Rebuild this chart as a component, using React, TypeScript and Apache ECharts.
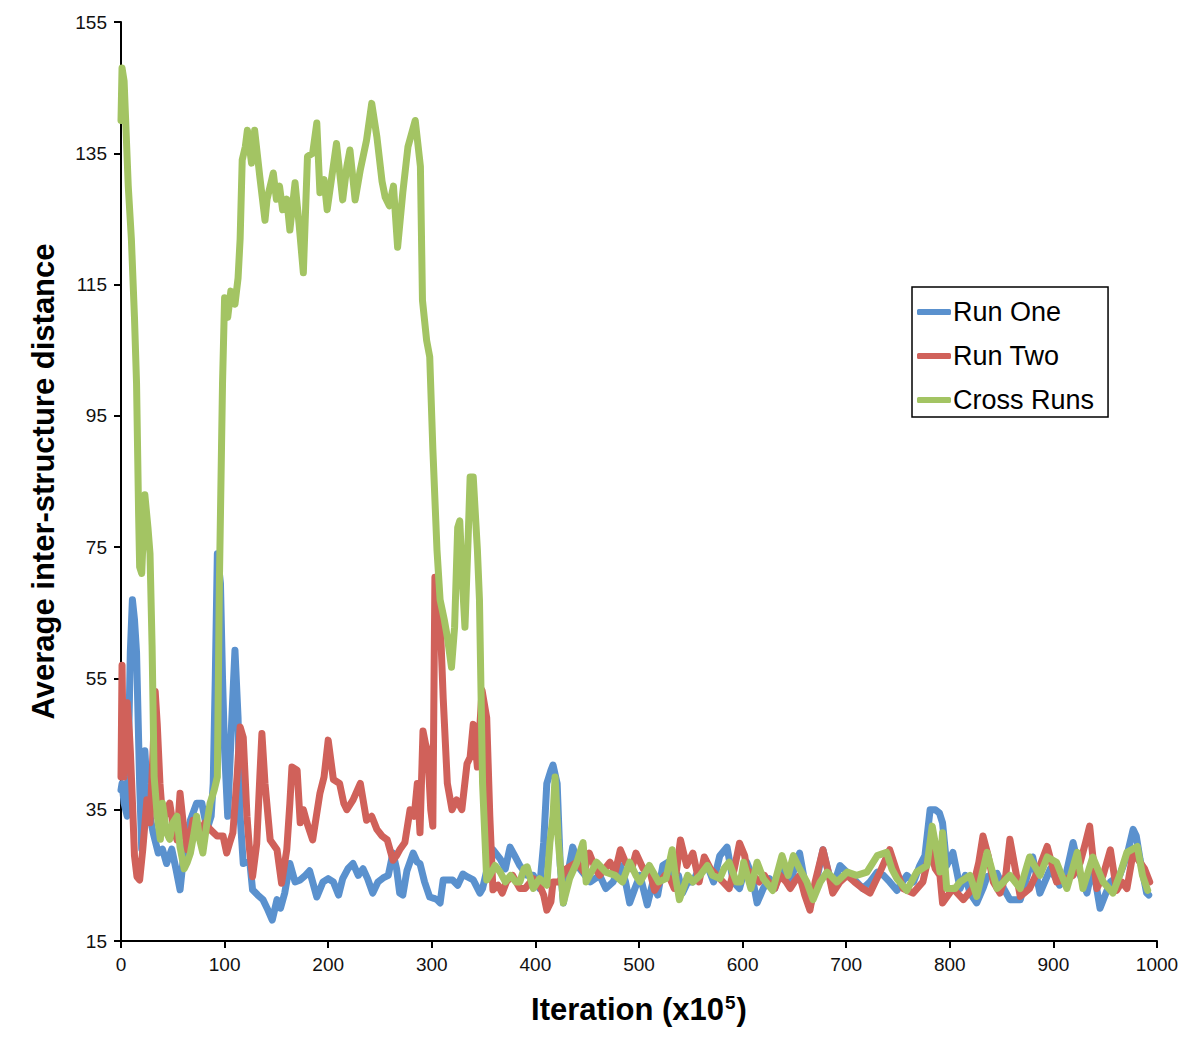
import React, { useEffect, useRef } from "react";
import * as echarts from "echarts";

const seriesNames = ["Run One", "Run Two", "Cross Runs"];
const seriesColors = ["#5A91CE", "#D0615A", "#A3C463"];

const xTicks = { min: 0, max: 1000, step: 100 };
const yTicks = { min: 15, max: 155, step: 20 };

const runOne: number[][] = [
  [0, 38], [1, 39], [3, 36], [6, 34], [9, 59], [11, 67], [13, 64], [15, 59], [18, 39], [20, 29], [23, 44], [25, 39], [28, 34], [31, 31.5], [36, 28.4], [40, 29], [44, 26.8], [49, 29], [53, 26], [57, 22.8], [60, 27.3], [63, 30], [67, 33.4], [73, 36], [78, 36], [83, 32], [87, 34], [89, 39], [91, 55], [93, 74], [96, 69.5], [98, 55], [100, 44], [103, 34], [107, 49], [110, 59.3], [113, 49], [115, 34], [118, 26.8], [121, 27], [124.5, 26.8], [127, 22.8], [132, 22], [137, 21.3], [141, 20], [146, 18.2], [150.6, 21.3], [154, 20], [158, 22.3], [163, 26.8], [168, 24], [173, 24.3], [178, 25], [182, 25.7], [189, 21.7], [195, 24], [200, 24.5], [205, 24], [210, 22], [214, 24.5], [219, 26], [224, 26.8], [229, 25], [233.6, 26], [238, 24.5], [243, 22.3], [248, 24], [253, 24.6], [258, 25], [262.5, 28.4], [266, 26], [269, 22.3], [272, 22], [276, 25.7], [282, 28.4], [286, 27], [288.6, 26.8], [293, 24], [298, 21.7], [302, 21.5], [305, 21.3], [308, 20.8], [311, 24.3], [317.6, 24.3], [320, 24.3], [325, 23.5], [330, 25.2], [334, 24.8], [340, 24.3], [346.5, 22.3], [349, 23], [353, 25.7], [356, 28.9], [359, 28.9], [366, 27.5], [371, 26], [375.5, 29.3], [380, 28], [385, 26.5], [392, 25], [398, 25], [404, 23], [408, 30], [411, 39], [415, 41], [417, 41.8], [421, 39], [424, 26.5], [427, 20.8], [431, 25], [436, 29.3], [443, 26], [448, 25], [453, 24], [462, 25], [468, 23], [475, 24], [482, 26.5], [487, 24], [491, 20.8], [496, 23], [501, 25], [508, 20.5], [513.5, 24], [518, 22], [523, 26.5], [528, 27], [533, 24.5], [538, 25], [542, 22.3], [547, 24], [552, 24], [558, 26], [566, 26.5], [572, 24], [578, 28], [585, 29.3], [591, 24], [597, 23], [604, 27], [609, 25], [614, 20.8], [620, 23], [626, 24.5], [631, 23], [636, 26], [641, 25], [646, 24], [650, 26], [655, 28.4], [660, 24], [665, 20.2], [671, 24], [677.6, 28.9], [682, 26], [687, 23], [694, 26.5], [703.7, 25], [710, 24], [716, 23], [723, 24], [730, 25.5], [736, 25], [742, 24], [749, 22.7], [758.5, 25], [765, 24], [771, 26.5], [776, 28], [781, 35], [786, 35], [790, 34.5], [793, 33], [797, 26.5], [803, 28.5], [810, 23], [815, 25], [819.5, 22.3], [826, 20.8], [832, 23], [836, 24.8], [845.6, 25.3], [852, 23], [858, 21.3], [868, 21.3], [873, 24], [880, 27.8], [887, 22.3], [897, 26], [906, 23.5], [912, 25], [919, 30], [926, 25], [932.4, 22.3], [938, 26.5], [945, 20], [950, 22], [955, 24], [964, 25], [971, 28], [977, 32], [980, 31], [983.6, 27.5], [990, 22.3], [992, 22],
];

const runTwo: number[][] = [
  [0, 40], [1, 57], [2, 45], [3, 40], [5, 50], [6, 51.3], [8, 47], [9, 44], [11.6, 34], [13, 28], [15.4, 24.8], [18, 24.3], [21, 28.9], [25, 36.5], [28, 33], [31, 44], [33, 53], [35, 48], [37.6, 39], [40.5, 33], [44, 35], [47, 36], [50, 33], [54, 30.4], [57, 37.5], [60, 33], [64, 28.9], [69.5, 33.4], [76, 31.5], [81, 33], [86, 32], [92.7, 31], [98.5, 31], [102, 28.4], [105, 30], [108, 31.5], [112, 40], [115, 47.6], [118, 46], [121.6, 34], [124, 29], [127, 24.8], [131, 29.8], [134, 40], [136, 46.6], [139, 39], [144, 30.4], [150.6, 28.9], [155, 23.8], [160, 28.9], [163, 36], [165, 41.5], [170, 41], [173, 33], [176, 35], [179.5, 33], [185, 30.4], [192, 37.5], [196, 40], [200, 45.6], [205, 39.6], [211, 39], [215, 36], [218, 35], [224, 36.5], [231, 39], [237, 33.4], [242, 34], [247, 32], [252, 31], [257, 30.4], [262.5, 27.3], [266, 28], [269, 28.9], [274, 30], [279, 35], [283, 34], [286, 39], [288.6, 31.5], [291.5, 47], [294, 45], [296, 44], [299, 35], [301, 32.5], [303, 70.4], [306, 65], [308, 64.3], [311, 52], [315, 39], [319.5, 35], [324, 36.5], [329, 35], [334, 42], [337, 43], [340, 48], [344, 41.5], [348.5, 53.2], [353, 49], [356, 34], [359, 22.8], [364, 23.5], [368, 22.3], [372, 24], [378, 25], [385, 23], [390, 23], [398, 24.5], [404, 23.5], [408, 22], [411, 19.7], [415, 21], [417, 24], [423, 24], [430, 26], [440, 27], [447, 25.5], [452, 28.4], [458, 26], [462, 25], [467, 26], [472, 27], [477, 25.5], [482, 28.9], [487, 27], [493, 26], [497, 28.4], [504, 26], [510, 26], [515, 22.7], [520, 24], [525, 25], [530, 24.5], [534, 23], [540, 30.4], [546, 26.5], [552, 28.4], [558, 24], [563, 27.8], [569, 26], [575, 25], [581, 24], [587, 23], [592, 26], [597, 29.9], [602, 28], [604, 26], [610, 25], [616, 24], [621, 25], [625, 24], [631, 23], [636, 25], [642, 24], [646, 23], [650, 24], [655, 25], [660, 22], [665, 19.7], [670, 24], [677.6, 28.9], [682, 26], [687, 22.3], [694, 24], [701, 25], [708, 24], [716, 23], [723, 22.3], [732.6, 25.5], [742, 28.9], [749, 25.5], [755, 23], [764.5, 22.3], [774, 24], [781, 28.9], [786, 26], [790.5, 25], [793, 20.8], [803, 23], [813, 21.3], [822, 23], [828, 27], [832, 31], [837, 28], [842, 24], [848.5, 22.3], [854, 25], [858, 30.5], [862, 27], [868, 21.8], [877, 23], [886, 26], [894, 29.4], [903, 24], [913, 24.5], [919, 25], [926, 27], [931, 30], [935, 32.5], [938, 28], [942, 23], [948, 25], [955, 28.9], [961, 22.7], [966, 24], [971, 23], [977, 28.5], [983.6, 27], [988, 26], [993, 24],
];

const crossRuns: number[][] = [
  [0, 140], [1, 148], [3, 146], [7, 130], [10, 122], [13, 110], [15, 100], [17, 80], [18, 72], [20, 71], [23, 83], [26, 78], [28, 74], [30, 60], [32, 40], [35, 34], [38, 30.5], [40, 36], [44, 31.5], [47, 30.5], [50, 33], [54, 34], [57, 29.3], [61, 26], [64, 27], [67, 28.4], [70, 31], [73, 34], [76, 30.4], [79, 28.4], [83, 33], [86, 36], [90, 38], [93, 40], [95, 70], [97, 90], [98, 100], [100, 113], [103, 110], [106, 114], [110, 112], [113, 116], [115, 122], [117, 134], [120, 136], [122, 138.5], [126, 133.5], [129, 138.5], [134, 131.4], [139, 124.8], [141, 128], [147, 132], [150, 128], [153, 130], [156, 126.4], [160, 128], [163, 123.3], [168, 130.5], [172, 124], [176, 116.8], [180, 134.5], [185, 135], [189, 139.6], [192, 129], [196, 131], [199, 126.4], [204, 132], [208, 136.5], [214, 127.9], [218, 133], [221, 135.5], [226, 127.9], [231, 132.5], [237, 137], [242, 142.6], [247, 137.5], [252, 130.7], [255, 128.3], [259, 127], [263, 130], [267, 120.7], [272, 129], [277, 136], [284, 140], [289, 133], [291, 112.6], [295, 106.5], [298, 104], [301, 90], [305, 74.6], [308, 67], [312, 64], [315, 61.3], [319, 56.7], [322, 62.8], [325, 78], [327, 79], [330, 68.5], [332, 62.8], [335, 76], [337, 85.7], [340, 85.7], [344, 74.6], [346, 67], [349, 39], [353, 24.3], [356, 25], [361, 26.5], [366, 25.5], [371, 24], [376, 25], [381, 24], [385, 24], [389, 26], [392, 26.3], [398, 23], [404, 24.5], [411, 23.5], [414, 30], [417, 34], [419, 40], [422, 30.5], [427, 20.8], [433, 24.5], [440, 27], [446, 30], [449, 24], [459, 27], [468, 25.5], [477, 25], [484, 24], [491, 27], [497, 25], [501, 24], [510, 26.5], [519, 24], [526, 24.5], [532, 28.9], [535, 25], [539, 21.3], [547, 25], [552, 24], [559, 25], [566, 26.5], [571, 25], [578, 24.5], [582, 26], [587, 27], [594, 24], [598, 24], [601, 27], [608, 23], [614, 27], [620, 24.5], [629, 22.7], [638, 28], [644, 25], [649, 28], [655, 26], [662, 24], [668, 21.3], [675, 24], [681.5, 25.5], [691, 24], [701, 25.5], [710, 25], [720, 25.5], [730, 28], [739, 28.5], [744, 26], [749, 24.5], [758.5, 22.7], [768, 25.5], [778, 26.5], [783, 32.5], [787, 29], [790.5, 25.5], [793, 31.5], [797, 23], [805, 23], [810, 24], [819.5, 25], [826, 21.8], [836, 28.5], [845.6, 23], [852, 24], [858, 25], [868, 23], [877, 27.8], [887, 25], [894, 27.8], [903, 27], [913, 23], [923, 28.5], [928.5, 23], [938, 27.8], [948, 24], [957.5, 22.3], [964, 25], [971, 28.5], [981, 29.4], [986, 25], [991, 22.7],
];

const allSeries = [runOne, runTwo, crossRuns];
const FONT = "'Liberation Sans', Arial, sans-serif";

export default function App() {
  const ref = useRef<HTMLDivElement>(null);
  useEffect(() => {
    document.body.style.margin = "0";
    if (!ref.current) return;
    const chart = echarts.init(ref.current, null, { renderer: "svg" });
    const axisCommon = {
      axisLine: { show: true, lineStyle: { color: "#000", width: 2 } },
      axisTick: { show: true, length: 7, lineStyle: { color: "#000", width: 2 } },
      splitLine: { show: false },
    };
    const labelStyle = { fontSize: 19, color: "#111", fontFamily: FONT, margin: 14 };
    chart.setOption({
      animation: false,
      backgroundColor: "#fff",
      grid: { left: 121, right: 43, top: 22, bottom: 106, containLabel: false },
      xAxis: {
        type: "value",
        min: xTicks.min,
        max: xTicks.max,
        interval: xTicks.step,
        ...axisCommon,
        axisLabel: { ...labelStyle, formatter: (v: number) => String(v) },
        name: "{b|Iteration (x10}{s|5}{b|)}",
        nameLocation: "middle",
        nameGap: 52,
        nameTextStyle: {
          rich: {
            b: { fontSize: 31, fontWeight: "bold", color: "#000", fontFamily: FONT },
            s: { fontSize: 19, fontWeight: "bold", color: "#000", fontFamily: FONT, verticalAlign: "top", padding: [0, 1, 13, 1] },
          },
        },
      },
      yAxis: {
        type: "value",
        min: yTicks.min,
        max: yTicks.max,
        interval: yTicks.step,
        ...axisCommon,
        axisLabel: { ...labelStyle, formatter: (v: number) => String(v) },
        name: "Average inter-structure distance",
        nameLocation: "middle",
        nameRotate: 90,
        nameGap: 62,
        nameTextStyle: { fontSize: 31, fontWeight: "bold", color: "#000", fontFamily: FONT },
      },
      legend: {
        show: true,
        orient: "vertical",
        left: 912,
        top: 287,
        padding: [10, 14, 2, 5],
        itemGap: 14,
        itemWidth: 34,
        itemHeight: 6,
        borderColor: "#000",
        borderWidth: 1.5,
        backgroundColor: "#fff",
        textStyle: { fontSize: 27, color: "#000", fontFamily: FONT, lineHeight: 30, padding: [0, 0, 0, -3] },
        data: seriesNames.map((n) => ({ name: n, icon: "roundRect" })),
      },
      series: allSeries.map((d, i) => ({
        name: seriesNames[i],
        type: "line",
        data: d,
        showSymbol: false,
        symbol: "none",
        color: seriesColors[i],
        itemStyle: { color: seriesColors[i] },
        lineStyle: { color: seriesColors[i], width: 7, cap: "round", join: "round" },
        z: 2 + i,
      })),
    });
    return () => chart.dispose();
  }, []);
  return (
    <div
      ref={ref}
      style={{ position: "absolute", left: 0, top: 0, width: 1200, height: 1047 }}
    />
  );
}
